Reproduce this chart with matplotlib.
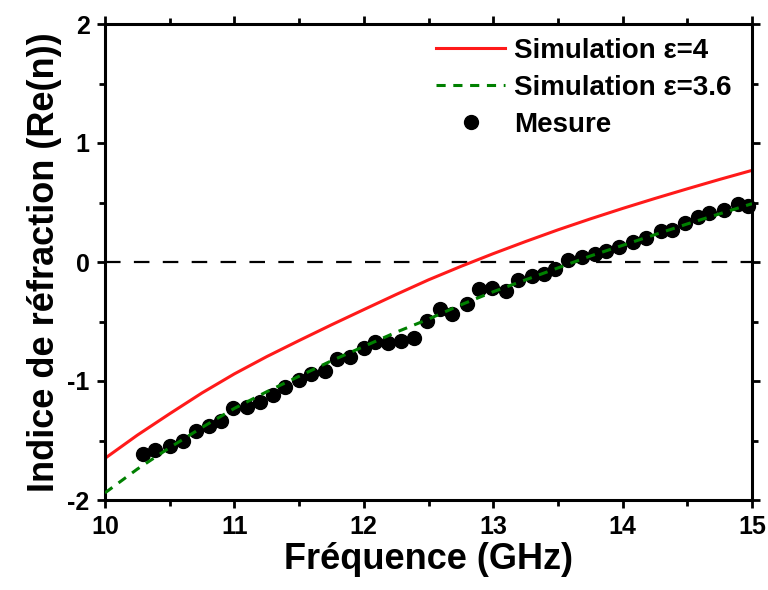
import matplotlib
matplotlib.use("Agg")
import matplotlib.pyplot as plt
from matplotlib.ticker import MultipleLocator

plt.rcParams['font.family'] = ['Liberation Sans', 'DejaVu Sans']
plt.rcParams['font.weight'] = 'bold'
plt.rcParams['axes.unicode_minus'] = False

# Simulation eps=4 (red solid)
freq_sim4 = [10.0, 10.25, 10.5, 10.75, 11.0, 11.25, 11.5, 11.75, 12.0, 12.25, 12.5,
             12.75, 13.0, 13.25, 13.5, 13.75, 14.0, 14.25, 14.5, 14.75, 15.0]
n_sim4 = [-1.65, -1.455, -1.275, -1.10, -0.94, -0.795, -0.66, -0.528, -0.40, -0.273, -0.15,
          -0.037, 0.07, 0.172, 0.27, 0.362, 0.45, 0.534, 0.615, 0.694, 0.77]

# Simulation eps=3.6 (green dashed)
freq_sim36 = freq_sim4
n_sim36 = [-1.94, -1.74, -1.56, -1.39, -1.23, -1.09, -0.96, -0.83, -0.71, -0.59, -0.48,
           -0.36, -0.25, -0.15, -0.05, 0.05, 0.14, 0.23, 0.32, 0.405, 0.49]

# Measurement (black dots)
freq_mes = [10.29, 10.39, 10.50, 10.60, 10.70, 10.80, 10.90, 10.99, 11.10, 11.20,
            11.30, 11.39, 11.50, 11.59, 11.70, 11.79, 11.89, 12.00, 12.09, 12.19,
            12.29, 12.39, 12.49, 12.59, 12.68, 12.80, 12.89, 12.99, 13.10, 13.19,
            13.30, 13.39, 13.48, 13.58, 13.69, 13.79, 13.87, 13.97, 14.08, 14.18,
            14.30, 14.38, 14.48, 14.58, 14.67, 14.78, 14.89, 14.97]
n_mes = [-1.61, -1.58, -1.55, -1.50, -1.42, -1.38, -1.34, -1.23, -1.22, -1.18,
         -1.12, -1.05, -0.99, -0.94, -0.92, -0.815, -0.80, -0.725, -0.67, -0.68,
         -0.66, -0.64, -0.495, -0.395, -0.44, -0.35, -0.23, -0.22, -0.24, -0.15,
         -0.12, -0.10, -0.06, 0.02, 0.04, 0.07, 0.095, 0.13, 0.17, 0.20,
         0.26, 0.27, 0.33, 0.38, 0.41, 0.44, 0.485, 0.47]

xticks = [10, 11, 12, 13, 14, 15]
yticks = [-2, -1, 0, 1, 2]

fig = plt.figure(figsize=(7.68, 5.90), dpi=100)
ax = fig.add_axes([105/768, 1-500/590, (752-105)/768, (500-24)/590])

ax.axhline(0, color='black', lw=1.6, dashes=(7, 6), zorder=1)
ax.plot(freq_sim4, n_sim4, color='#ff1a1a', lw=2.2, label='Simulation ε=4', zorder=2)
ax.plot(freq_mes, n_mes, 'o', color='black', markersize=10, label='Mesure',
        clip_on=False, zorder=3)
ax.plot(freq_sim36, n_sim36, color='#008000', lw=2.2, dashes=(3, 2.5),
        label='Simulation ε=3.6', zorder=4)

ax.set_xlim(10, 15)
ax.set_ylim(-2, 2)
ax.set_xticks(xticks)
ax.set_yticks(yticks)
ax.xaxis.set_minor_locator(MultipleLocator(0.5))
ax.yaxis.set_minor_locator(MultipleLocator(0.5))

for s in ax.spines.values():
    s.set_linewidth(2.2)

ax.tick_params(which='both', direction='out', top=True, right=True, width=2.0,
               labelsize=18)
ax.tick_params(which='major', length=6, pad=5)
ax.tick_params(which='minor', length=4)
for lab in ax.get_xticklabels() + ax.get_yticklabels():
    lab.set_fontweight('bold')

ax.set_xlabel('Fréquence (GHz)', fontsize=26, fontweight='bold', labelpad=2)
ax.set_ylabel('Indice de réfraction (Re(n))', fontsize=26, fontweight='bold', labelpad=4)

handles, labels = ax.get_legend_handles_labels()
order = [0, 2, 1]
leg = ax.legend([handles[i] for i in order], [labels[i] for i in order],
                loc='upper right', frameon=False,
                handlelength=2.5, handletextpad=0.3, labelspacing=0.4,
                borderaxespad=0.0, bbox_to_anchor=(0.985, 0.994),
                prop={'weight': 'bold', 'size': 20})

fig.savefig('out.png', dpi=100)
